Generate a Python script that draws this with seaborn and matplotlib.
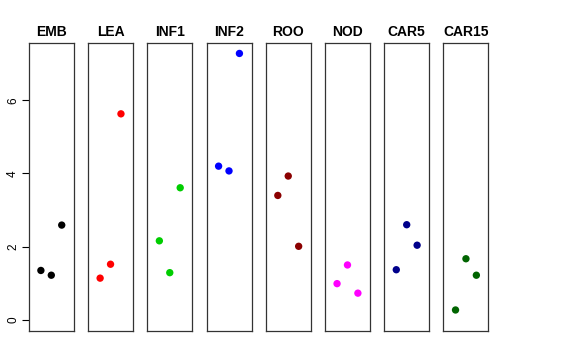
import pandas as pd
import seaborn as sns
import matplotlib.pyplot as plt

# tissue samples, three replicates each
tissues = ['EMB', 'LEA', 'INF1', 'INF2', 'ROO', 'NOD', 'CAR5', 'CAR15']
colors = ['black', 'red', '#00CD00', 'blue', '#8B0000', 'magenta', '#00008B', '#006400']
replicate = [1, 2, 3]
expr = {
    'EMB': [1.35, 1.22, 2.59],
    'LEA': [1.14, 1.52, 5.63],
    'INF1': [2.16, 1.29, 3.61],
    'INF2': [4.20, 4.07, 7.28],
    'ROO': [3.40, 3.93, 2.01],
    'NOD': [0.99, 1.50, 0.73],
    'CAR5': [1.37, 2.60, 2.04],
    'CAR15': [0.27, 1.67, 1.22],
}

rows = []
for t in tissues:
    for r, v in zip(replicate, expr[t]):
        rows.append({'tissue': t, 'rep': r, 'value': v})
df = pd.DataFrame(rows)

sns.set_style("white")
plt.rcParams['font.family'] = ['Liberation Sans', 'DejaVu Sans']
plt.rcParams['text.color'] = 'black'
plt.rcParams['ytick.color'] = 'black'
plt.rcParams['ytick.labelcolor'] = 'black'

fig, axes = plt.subplots(1, 8, figsize=(5.76, 3.6), dpi=100, sharey=True)
fig.subplots_adjust(left=0.05, right=0.848, top=0.881, bottom=0.081, wspace=0.316)

for i, (ax, t, c) in enumerate(zip(axes, tissues, colors)):
    sub = df[df['tissue'] == t]
    sns.scatterplot(data=sub, x='rep', y='value', color=c, s=28, edgecolor='none', ax=ax)
    ax.set_xlim(-0.16, 4.16)
    ax.set_ylim(-0.3, 7.57)
    ax.set_title(t, fontsize=10, fontweight='bold', pad=5, color='black')
    ax.set_xlabel('')
    ax.set_ylabel('')
    ax.set_xticks([])
    for sp in ax.spines.values():
        sp.set_visible(True)
        sp.set_color('#333333')
        sp.set_linewidth(0.9)
    if i == 0:
        ax.set_yticks([0, 2, 4, 6])
        ax.tick_params(axis='y', left=True, length=5, width=0.8, labelsize=8.5, pad=2, colors='black')
        for lab in ax.get_yticklabels():
            lab.set_rotation(90)
            lab.set_va('center')
    else:
        ax.tick_params(axis='y', left=False)

fig.savefig('out.png', dpi=100)
